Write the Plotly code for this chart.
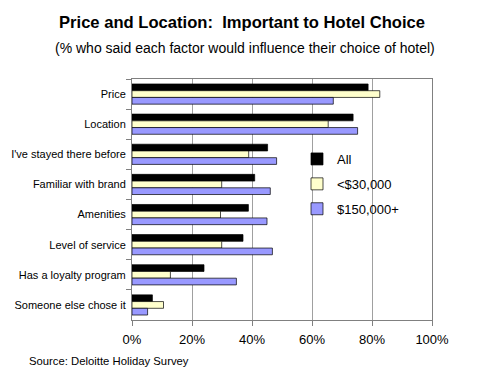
import plotly.graph_objects as go

categories = ["Price", "Location", "I've stayed there before", "Familiar with brand",
              "Amenities", "Level of service", "Has a loyalty program", "Someone else chose it"]
all_vals = [78.7, 73.7, 45.2, 40.9, 38.8, 37.0, 24.0, 6.8]
low_vals = [82.6, 65.4, 38.9, 29.9, 29.5, 29.9, 12.8, 10.5]
high_vals = [67.1, 75.2, 48.2, 46.1, 45.0, 46.8, 34.8, 5.2]
series_names = ["All", "<$30,000", "$150,000+"]
series_colors = ["#000000", "#FFFFCC", "#9999FF"]
x_ticks = [0, 20, 40, 60, 80, 100]
x_tick_labels = ["0%", "20%", "40%", "60%", "80%", "100%"]

FONT = "Liberation Sans, Arial, sans-serif"
W, H = 482, 377
OFF = 8  # page body margin
# plot area in screenshot pixels
X0, X1, Y0, Y1 = 132, 432, 79, 320
L, R, T, B = X0 - OFF, W - (X1 - OFF), Y0 - OFF, H - (Y1 - OFF)
PW, PH = W - L - R, H - T - B


def px(x):
    return (x - OFF - L) / PW


def py(y):
    return (H - B - (y - OFF)) / PH


fig = go.Figure()
for name, vals, col in zip(series_names, [all_vals, low_vals, high_vals], series_colors):
    fig.add_trace(go.Bar(
        y=categories, x=vals, name=name, orientation="h",
        marker=dict(color=col, line=dict(color="#000000", width=0.7)),
        legendgroup=name,
    ))

fig.update_layout(
    width=W, height=H,
    margin=dict(l=L, r=R, t=T, b=B, autoexpand=False),
    paper_bgcolor="white", plot_bgcolor="white",
    barmode="group", bargap=0.33, bargroupgap=0,
    font=dict(family=FONT, size=12, color="#000000"),
    showlegend=True,
    legend=dict(x=px(297), y=py(144), xanchor="left", yanchor="top",
                bgcolor="rgba(0,0,0,0)", font=dict(size=13, family=FONT),
                traceorder="grouped", tracegroupgap=5),
    annotations=[
        dict(text="<b>Price and Location:  Important to Hotel Choice</b>",
             x=px(242), y=py(23), xref="paper", yref="paper", xanchor="center", yanchor="middle",
             showarrow=False, font=dict(size=16.6, family=FONT)),
        dict(text="(% who said each factor would influence their choice of hotel)",
             x=px(245), y=py(48), xref="paper", yref="paper", xanchor="center", yanchor="middle",
             showarrow=False, font=dict(size=14, family=FONT)),
        dict(text="Source: Deloitte Holiday Survey",
             x=px(27), y=py(361), xref="paper", yref="paper", xanchor="left", yanchor="middle",
             showarrow=False, font=dict(size=11.3, family=FONT)),
    ],
)

fig.update_xaxes(range=[0, 100], tickvals=x_ticks, ticktext=x_tick_labels, automargin=False,
                 showgrid=True, gridcolor="#A0A0A0", gridwidth=1,
                 showline=True, linecolor="#808080", mirror=True, linewidth=1,
                 ticks="outside", ticklen=5, tickcolor="#808080", zeroline=False,
                 ticklabelstandoff=2, tickfont=dict(size=13))
fig.update_yaxes(autorange="reversed", automargin=False,
                 showline=True, linecolor="#808080", mirror=True, linewidth=1,
                 ticks="outside", ticklen=5, tickcolor="#808080", tickson="boundaries",
                 ticklabelstandoff=3, showgrid=False, tickfont=dict(size=11))

fig.write_html("out.html")
